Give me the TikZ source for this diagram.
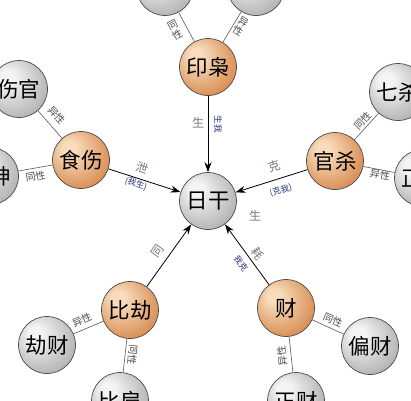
\documentclass[tikz,border=0pt]{standalone}
\usepackage{fontspec}
\newfontfamily\cjk{Noto Sans CJK SC}
\usetikzlibrary{arrows.meta}
\definecolor{orL}{RGB}{248,220,188}
\definecolor{orM}{RGB}{218,145,88}
\definecolor{orD}{RGB}{160,90,45}
\definecolor{grL}{RGB}{244,244,244}
\definecolor{grM}{RGB}{182,182,182}
\definecolor{grD}{RGB}{100,100,100}
\definecolor{lblgray}{RGB}{112,120,132}
\definecolor{lblblue}{RGB}{38,48,128}
\pgfdeclareradialshading{orbor}{\pgfqpoint{-12bp}{12bp}}{color(0bp)=(orL); color(6bp)=(orL); color(30bp)=(orM); color(46bp)=(orD); color(50bp)=(orD)}
\pgfdeclareradialshading{orbgr}{\pgfqpoint{-12bp}{12bp}}{color(0bp)=(grL); color(6bp)=(grL); color(30bp)=(grM); color(46bp)=(grD); color(50bp)=(grD)}
\begin{document}
\begin{tikzpicture}[x=1pt,y=-1pt,
  ball/.style={circle, minimum size=57pt, inner sep=0pt, draw=black!70, line width=0.7pt,
    font=\cjk\fontsize{21.5}{21.5}\selectfont},
  orb/.style={ball, shading=orbor},
  grb/.style={ball, shading=orbgr},
  link/.style={draw=black!65, line width=0.6pt},
  arr/.style={draw=black, line width=0.8pt, -{Stealth[length=10pt,width=7pt]}},
  tag/.style={font=\cjk\fontsize{10}{10.5}\selectfont, text=black!70, inner sep=1pt},
  rel/.style={font=\cjk\fontsize{12}{12}\selectfont, text=lblgray, inner sep=1pt},
  note/.style={font=\cjk\fontsize{8.5}{8.5}\selectfont, text=lblblue, inner sep=1pt}]
\useasboundingbox[fill=white] (0,0) rectangle (411,400);

% outer gray balls
\node[grb] (t1) at (165,-13) {};
\node[grb] (t2) at (256,-13) {};
\node[grb] (sg) at (19,89) {伤官};
\node[grb] (sh) at (-10,176) {食神};
\node[grb] (qs) at (398,92) {七杀};
\node[grb] (zg) at (423,178) {正官};
\node[grb] (jc) at (47,345) {劫财};
\node[grb] (bjian) at (120,401) {比肩};
\node[grb] (pc) at (370,346) {偏财};
\node[grb] (zc) at (296,401) {正财};

% main nodes
\node[grb] (ri) at (208,201) {日干};
\node[orb] (yx) at (208,67) {印枭};
\node[orb] (ss) at (81,160) {食伤};
\node[orb] (gs) at (335,161) {官杀};
\node[orb] (bj) at (130,310) {比劫};
\node[orb] (cai) at (286,308) {财};

% links to outer balls
\draw[link] (t1) -- node[tag, pos=.5, shift={(-11.5,3)}, rotate=28, align=center] {同\\性} (yx);
\draw[link] (yx) -- node[tag, pos=.5, shift={(8.5,0)}, rotate=-31, align=center] {异\\性} (t2);
\draw[link] (sg) -- node[tag, pos=.5, shift={(6.5,-9)}, rotate=-49] {异性} (ss);
\draw[link] (sh) -- node[tag, pos=.5, shift={(0,8.5)}, rotate=10] {同性} (ss);
\draw[link] (gs) -- node[tag, pos=.5, shift={(-4,-6)}, rotate=47.6] {同性} (qs);
\draw[link] (gs) -- node[tag, pos=.5, shift={(1,5.5)}, rotate=-11] {异性} (zg);
\draw[link] (bj) -- node[tag, pos=.5, shift={(-6.5,-7)}, rotate=23] {异性} (jc);
\draw[link] (bj) -- node[tag, pos=.5, shift={(7.5,-1)}, rotate=-96] {同性} (bjian);
\draw[link] (cai) -- node[tag, pos=.5, shift={(5,-6.5)}, rotate=-24] {同性} (pc);
\draw[link] (cai) -- node[tag, pos=.5, shift={(-9,1)}, rotate=96] {异性} (zc);

% arrows to the day master
\draw[arr] (yx) -- node[rel, pos=.5, shift={(-10,-11)}] {生}
                   node[note, pos=.5, shift={(10,-10)}, rotate=-90] {生我} (ri);
\draw[arr] (ss) -- node[rel, pos=.5, shift={(-2.5,-13)}, rotate=-18] {泄}
                   node[note, pos=.5, shift={(-8.5,3.5)}, rotate=-18] {(我生)} (ri);
\draw[arr] (gs) -- node[rel, pos=.5, shift={(2.5,-15)}, rotate=17.5] {克}
                   node[note, pos=.5, shift={(9.5,9.5)}, rotate=17.5] {(克我)} (ri);
\draw[arr] (bj) -- node[rel, pos=.5, shift={(-11,-4.5)}, rotate=54.4] {同} (ri);
\draw[arr] (cai) -- node[rel, pos=.5, shift={(10.5,-1)}, rotate=-54] {耗}
                    node[note, pos=.5, shift={(-6,9)}, rotate=-54] {我克} (ri);
\node[rel] (sheng) at (255,216) {生};
\end{tikzpicture}
\end{document}
